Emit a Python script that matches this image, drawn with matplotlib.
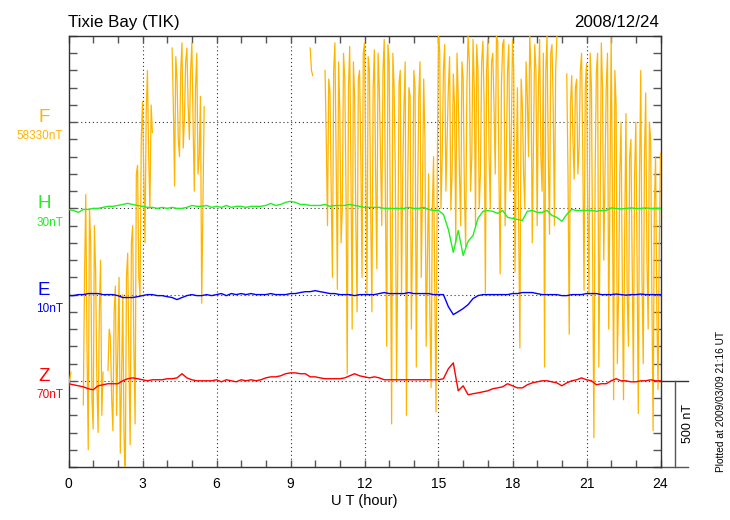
import matplotlib
matplotlib.use("Agg")
import matplotlib.pyplot as plt
import numpy as np

plt.rcParams['font.family'] = ['Liberation Sans', 'DejaVu Sans']

nan = np.nan

station = "Tixie Bay (TIK)"
date_str = "2008/12/24"
plotted_str = "Plotted at 2009/03/09 21:16 UT"

components = ["F", "H", "E", "Z"]
baseline_labels = ["58330nT", "30nT", "10nT", "70nT"]
colors = ["#FFB400", "#22EE22", "#0000FF", "#FF0000"]
offsets = [2000, 1500, 1000, 500]   # stacking position of each trace (nT)

# F deviation from baseline (nT), at whole 0.1 h steps (0.0, 0.1, ... 24.0)
F_dev = [
    -1530, -1450, nan, nan, nan, nan, -1640, -420, -1900, -700,
    -1780, -870, -1800, -800, -1450, nan, -1440, -1250, -1790, -950,
    -1300, -1920, -1000, -2100, -760, -1870, -600, -1750, -250, -1000,
    120, -700, 300, -500, -60, nan, nan, nan, nan, nan,
    nan, nan, 430, -370, 250, -200, 460, 20, 430, -100,
    460, -400, 400, -200, -1050, 90, nan, nan, nan, nan,
    nan, nan, nan, nan, nan, nan, nan, nan, nan, nan,
    nan, nan, nan, nan, nan, nan, nan, nan, nan, nan,
    nan, nan, nan, nan, nan, nan, nan, nan, nan, nan,
    nan, nan, nan, nan, nan, nan, nan, nan, 430, 270,
    nan, nan, nan, nan, 300, -600, 180, -900, 460, -970,
    60, -500, 250, -1460, 440, -1200, 150, -1100, 300, -900,
    460, -1000, 300, -1100, 420, -850, 200, -600, 480, -1300,
    350, -1750, 200, -1500, 230, -1000, 100, -1700, 200, -1200,
    300, -1420, 150, -900, 250, -1300, -300, -1540, -200, -1680,
    520, -500, 300, -400, 200, -510, 280, -700, 150, -600,
    250, -720, 500, -400, 480, -600, 300, -300, 470, -990,
    480, -500, 400, -300, 470, -880, 450, -600, 300, -400,
    480, -870, 200, -1310, 100, -500, 150, 500, -700, 450,
    -600, 480, -400, -1420, 500, -650, 450, -600, 500, nan,
    nan, nan, 280, -1230, 270, -330, 250, -150, 400, -975,
    340, -1000, 200, -1830, 300, -1420, 460, -800, 200, -1200,
    490, -1610, 100, -1000, 0, -1610, 50, -1300, -100, -1500,
    0, -1690, 300, -1400, 170, -1200, -100, -1790, -200, -1550,
    -180,
]
# F deviation at the half steps in between (0.05, 0.15, ... 23.95)
F_mid = [
    -1490, nan, nan, nan, nan, nan, -900, -1300, -500, -1600,
    -600, -1500, -1100, -1700, nan, nan, -1200, -1600, -1100, -1700,
    -900, -1500, -1800, -900, -1400, -700, -1300, -300, -900, -100,
    -300, 50, -200, 100, nan, nan, nan, nan, nan, nan,
    nan, nan, 100, 380, -100, 300, -150, 350, 100, 300,
    0, 200, -300, 150, -500, nan, nan, nan, nan, nan,
    nan, nan, nan, nan, nan, nan, nan, nan, nan, nan,
    nan, nan, nan, nan, nan, nan, nan, nan, nan, nan,
    nan, nan, nan, nan, nan, nan, nan, nan, nan, nan,
    nan, nan, nan, nan, nan, nan, nan, nan, 300, nan,
    nan, nan, nan, nan, -100, 250, -400, 300, -200, 350,
    -700, 400, -400, 200, -300, 350, -600, 250, -200, 400,
    -300, 380, -500, 200, -300, 400, -200, 300, -500, 450,
    -600, 400, -300, -800, 300, -300, 350, -400, 150, -600,
    200, -500, 350, -400, -100, -800, -1100, -500, -1000, -300,
    400, -200, 450, -100, 380, -300, 100, 400, -300, 350,
    -400, 200, 350, -200, 200, 450, -500, 350, 100, 300,
    -200, 350, 100, 500, -300, 200, 480, -200, 450, -100,
    300, -300, -600, 250, -300, 350, -200, 300, -100, 300,
    200, -200, 400, 300, -200, 400, 100, 300, nan, nan,
    nan, nan, -300, 100, -100, 200, -300, 300, -200, 200,
    -500, 400, -800, -300, 400, -600, 200, -300, 400, -400,
    -400, 300, -1400, -300, -900, -600, -1000, -200, -800, -300,
    -800, -300, -900, -200, -800, 0, -1000, -500, -1100, -700,
]

# H, E, Z deviations from baseline (nT), 0.2 h steps
H_dev = [
    -6, -12, -23, -6, -6, 0, 0, 6, 12, 12,
    17, 23, 29, 23, 17, 12, 6, 6, 0, 6,
    0, 6, 0, 0, 6, 17, 12, 12, 17, 6,
    12, 6, 17, 6, 12, 12, 6, 12, 12, 12,
    17, 29, 17, 23, 35, 41, 35, 23, 23, 17,
    17, 17, 23, 12, 17, 17, 17, 23, 17, 12,
    6, 6, 6, 6, 0, 0, 0, 0, 0, 6,
    0, 0, 6, -6, -12, -12, -35, -122, -255, -128,
    -273, -191, -157, -58, -17, -12, -17, -29, -12, -52,
    -58, -64, -70, -17, -12, -23, -23, -12, -41, -52,
    -75, -35, -6, -12, -12, -12, -12, -17, -12, -12,
    3, 0, -3, 0, 3, 0, 0, 3, 0, 0,
    0,
]
E_dev = [
    -6, -6, 0, 0, 6, 6, 6, 0, 0, 0,
    -6, -17, -17, -17, -12, -6, 0, 0, -6, -6,
    -12, -17, -29, -17, -6, 0, -6, -6, 0, -6,
    0, 6, -6, 6, 0, 6, 0, 6, 0, 0,
    0, 6, 0, 0, 0, 6, 6, 12, 17, 17,
    23, 17, 12, 6, 6, 0, 0, 0, -6, 0,
    0, 0, 0, 6, 12, 6, 6, 6, 6, 12,
    6, 6, 6, 6, 0, 0, 0, -70, -116, -99,
    -81, -58, -23, -6, 0, 0, 0, 0, 0, 0,
    6, 6, 12, 12, 12, 6, 0, 0, 0, 0,
    -6, -6, 0, 0, 0, 6, 6, 6, 0, 0,
    0, 3, 0, -3, 0, 0, 3, 0, 0, 0,
    0,
]
Z_dev = [
    -17, -23, -29, -35, -46, -52, -29, -23, -17, -17,
    -17, 0, 12, 17, 12, 6, 0, 6, 6, 6,
    12, 12, 17, 41, 17, 6, 0, 0, 0, 0,
    6, -6, 6, 0, -6, 6, 0, 6, 0, 6,
    17, 23, 23, 29, 41, 46, 46, 41, 41, 23,
    23, 17, 12, 12, 12, 12, 17, 29, 41, 29,
    23, 17, 23, 17, 6, 6, 6, 6, 6, 6,
    6, 6, 6, 6, 6, 6, 12, 70, 104, -58,
    -29, -81, -75, -70, -64, -58, -46, -41, -35, -17,
    -29, -41, -41, -23, -12, -6, 0, 0, -6, -12,
    -29, -12, 0, 6, 17, 6, 0, -23, -17, -17,
    0, 12, 0, 0, -6, -6, 0, 0, 6, 0,
    0,
]

x_ticks = [0, 3, 6, 9, 12, 15, 18, 21, 24]
scale_nT = 500

# sample times
t_f = np.linspace(0, 24, 481)
t_b = np.linspace(0, 24, 121)
F_all = np.empty(481)
F_all[0::2] = F_dev
F_all[1::2] = F_mid

fig = plt.figure(figsize=(7.3, 5.2), dpi=100)
ax = fig.add_axes([68.5 / 730, 53 / 520, 592 / 730, 431 / 520])
ax.set_xlim(0, 24)
ax.set_ylim(0, 2500)

# grid: vertical dotted at 3-hour marks, horizontal dotted at baselines
for xv in x_ticks[1:-1]:
    ax.axvline(xv, color="#333333", lw=0.8, ls=(0, (1, 2.5)), zorder=1)
for off in offsets:
    ax.axhline(off, color="#333333", lw=0.8, ls=(0, (1, 2.5)), zorder=1)

ax.plot(t_f, F_all + offsets[0], color=colors[0], lw=0.9, zorder=3)
for vals, off, col in zip([H_dev, E_dev, Z_dev], offsets[1:], colors[1:]):
    ax.plot(t_b, np.array(vals, dtype=float) + off, color=col, lw=1.0, zorder=4)

# ticks
ax.set_xticks(x_ticks)
ax.set_xticks(range(0, 25), minor=True)
ax.set_yticks(range(0, 2501, 100))
ax.set_yticklabels([])
ax.tick_params(axis="x", which="both", direction="in", top=True, length=5,
               width=1, color="#555555", labelsize=10, pad=7)
ax.tick_params(axis="y", direction="in", left=True, right=True, length=6,
               width=1, color="#555555")
for s in ax.spines.values():
    s.set_color("#333333")
    s.set_linewidth(1.0)
ax.set_xlabel("U T (hour)", fontsize=10.5, labelpad=2)

# component labels on left
for comp, base, off, col in zip(components, baseline_labels, offsets, colors):
    ax.text(-0.99, off, comp, color=col, fontsize=13.5, ha="center",
            va="baseline", clip_on=False)
    ax.text(-0.22, off - 100, base, color=col, fontsize=8.5, ha="right",
            va="baseline", clip_on=False)

# 500 nT scale bar on right
ax.plot([24, 25.1], [500, 500], color="#333333", lw=1, clip_on=False)
ax.plot([24, 25.1], [0, 0], color="#555555", lw=1, clip_on=False)
ax.plot([24.58, 24.58], [0, scale_nT], color="#555555", lw=1, clip_on=False)
ax.text(25.12, 250, "500 nT", rotation=90, ha="center", va="center",
        fontsize=9, clip_on=False)

fig.text(68 / 730, 1 - 27 / 520, station, fontsize=12.2, ha="left", va="baseline")
fig.text(659 / 730, 1 - 27 / 520, date_str, fontsize=12.2, ha="right", va="baseline")
fig.text(721 / 730, 1 - 401 / 520, plotted_str, fontsize=7.3, rotation=90,
         ha="center", va="center")

fig.savefig("out.png", dpi=100)
